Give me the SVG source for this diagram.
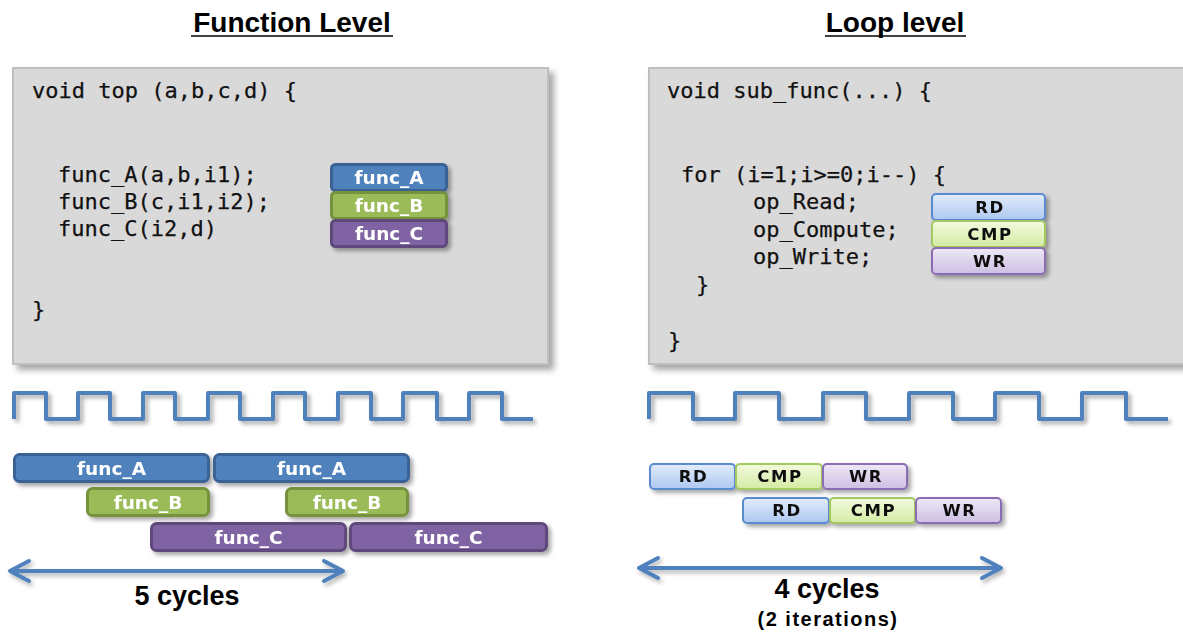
<svg xmlns="http://www.w3.org/2000/svg" width="1183" height="632" viewBox="0 0 1183 632">
<defs>
<style>
.title{font-family:"Liberation Sans",Arial,sans-serif;font-weight:bold;font-size:28px;fill:#000;text-anchor:middle}
.code{font-family:"DejaVu Sans Mono","Liberation Mono",monospace;font-size:22px;fill:#111;stroke:#111;stroke-width:0.25}
.panel{fill:#d9d9d9;stroke:#bfbfbf;stroke-width:2}
.fn{font-family:"DejaVu Sans",Verdana,sans-serif;font-weight:bold;font-size:18.5px;fill:#fff;text-anchor:middle}
.op{font-family:"DejaVu Sans",Verdana,sans-serif;font-weight:bold;font-size:16.5px;fill:#111;text-anchor:middle;letter-spacing:1.6px}
.fa{fill:#4f81bd;stroke:#3a6294;stroke-width:3}
.fb{fill:#9bbb59;stroke:#76923c;stroke-width:3}
.fc{fill:#8064a2;stroke:#5f4a7b;stroke-width:3}
.rd{fill:url(#gRD);stroke:#5a8bcf;stroke-width:2}
.cmp{fill:url(#gCMP);stroke:#a4c862;stroke-width:2}
.wr{fill:url(#gWR);stroke:#8b6db3;stroke-width:2}
.wave{fill:none;stroke:#4f81bd;stroke-width:4;stroke-linejoin:round}
.arrow{fill:none;stroke:#4f81bd;stroke-width:4}
.lbl{font-family:"Liberation Sans",Arial,sans-serif;font-weight:bold;font-size:27px;fill:#000;text-anchor:middle}
.sub{font-family:"Liberation Sans",Arial,sans-serif;font-weight:bold;font-size:20px;fill:#000;text-anchor:middle;letter-spacing:1.5px}
</style>
<linearGradient id="gRD" x1="0" y1="0" x2="0" y2="1"><stop offset="0" stop-color="#e2ecfb"/><stop offset="1" stop-color="#adc8f0"/></linearGradient>
<linearGradient id="gCMP" x1="0" y1="0" x2="0" y2="1"><stop offset="0" stop-color="#f3fadf"/><stop offset="1" stop-color="#d3eba2"/></linearGradient>
<linearGradient id="gWR" x1="0" y1="0" x2="0" y2="1"><stop offset="0" stop-color="#eee8f6"/><stop offset="1" stop-color="#cdbfe3"/></linearGradient>
<filter id="sh" x="-10%" y="-30%" width="130%" height="180%"><feDropShadow dx="3" dy="3" stdDeviation="2" flood-color="#000" flood-opacity="0.35"/></filter>
<filter id="shLine" filterUnits="userSpaceOnUse" x="0" y="540" width="1183" height="60"><feDropShadow dx="2" dy="3" stdDeviation="2" flood-color="#000" flood-opacity="0.3"/></filter>
<filter id="shBig" x="-5%" y="-5%" width="115%" height="115%"><feDropShadow dx="5" dy="5" stdDeviation="3" flood-color="#000" flood-opacity="0.35"/></filter>
<marker id="chev" markerUnits="userSpaceOnUse" viewBox="-22 -13 26 26" refX="0" refY="0" markerWidth="26" markerHeight="26" orient="auto-start-reverse">
<path d="M-19,-10 L0,0 L-19,10" fill="none" stroke="#4f81bd" stroke-width="4" stroke-linecap="round" stroke-linejoin="round"/>
</marker>
</defs>
<rect width="1183" height="632" fill="#fff"/>

<g id="title-function-level">
<text class="title" x="292" y="32">Function Level</text>
<line x1="191" y1="36" x2="393" y2="36" stroke="#000" stroke-width="1.6"/>
</g>
<g id="title-loop-level">
<text class="title" x="895" y="32">Loop level</text>
<line x1="825" y1="36" x2="966" y2="36" stroke="#000" stroke-width="1.6"/>
</g>

<g id="panel-top">
<rect class="panel" x="13" y="68" width="535" height="296" filter="url(#shBig)"/>
<text class="code" x="32" y="98">void top (a,b,c,d) {</text>
<text class="code" x="58" y="182">func_A(a,b,i1);</text>
<text class="code" x="58" y="209">func_B(c,i1,i2);</text>
<text class="code" x="58" y="236">func_C(i2,d)</text>
<text class="code" x="32" y="317">}</text>
</g>

<g id="panel-sub-func">
<rect class="panel" x="649" y="68" width="545" height="296" filter="url(#shBig)"/>
<text class="code" x="667" y="98">void sub_func(...) {</text>
<text class="code" x="681" y="182">for (i=1;i&gt;=0;i--) {</text>
<text class="code" x="753" y="209">op_Read;</text>
<text class="code" x="753" y="237">op_Compute;</text>
<text class="code" x="753" y="264">op_Write;</text>
<text class="code" x="696" y="292">}</text>
<text class="code" x="668" y="348">}</text>
</g>

<g id="code-func-A" filter="url(#sh)">
<rect class="fa" x="331.5" y="164.5" width="115" height="26" rx="4"/>
<text class="fn" x="389" y="184">func_A</text>
</g>
<g id="code-func-B" filter="url(#sh)">
<rect class="fb" x="331.5" y="192.5" width="115" height="26" rx="4"/>
<text class="fn" x="389" y="212">func_B</text>
</g>
<g id="code-func-C" filter="url(#sh)">
<rect class="fc" x="331.5" y="220.5" width="115" height="26" rx="4"/>
<text class="fn" x="389" y="240">func_C</text>
</g>

<g id="code-RD" filter="url(#sh)">
<rect class="rd" x="932" y="194" width="113" height="26" rx="4"/>
<text class="op" x="990" y="213">RD</text>
</g>
<g id="code-CMP" filter="url(#sh)">
<rect class="cmp" x="932" y="221" width="113" height="26" rx="4"/>
<text class="op" x="990" y="240">CMP</text>
</g>
<g id="code-WR" filter="url(#sh)">
<rect class="wr" x="932" y="248" width="113" height="26" rx="4"/>
<text class="op" x="990" y="267">WR</text>
</g>

<g id="clock-left" filter="url(#sh)">
<path class="wave" d="M14,419 V393 H46 V419 H78 V393 H110 V419 H143 V393 H175 V419 H208 V393 H240 V419 H273 V393 H305 V419 H338 V393 H371 V419 H403 V393 H437 V419 H469 V393 H502 V419 H533"/>
</g>
<g id="clock-right" filter="url(#sh)">
<path class="wave" d="M649,419 V393 H693 V419 H735 V393 H779 V419 H823 V393 H866 V419 H909 V393 H953 V419 H995 V393 H1039 V419 H1082 V393 H1126 V419 H1168"/>
</g>

<g id="bar-func-A-1" filter="url(#sh)">
<rect class="fa" x="14.5" y="454.5" width="194" height="27" rx="5"/>
<text class="fn" x="111.5" y="475">func_A</text>
</g>
<g id="bar-func-A-2" filter="url(#sh)">
<rect class="fa" x="214.5" y="454.5" width="194" height="27" rx="5"/>
<text class="fn" x="311.5" y="475">func_A</text>
</g>
<g id="bar-func-B-1" filter="url(#sh)">
<rect class="fb" x="87.5" y="488.5" width="121" height="27" rx="5"/>
<text class="fn" x="148" y="509">func_B</text>
</g>
<g id="bar-func-B-2" filter="url(#sh)">
<rect class="fb" x="286.5" y="488.5" width="121" height="27" rx="5"/>
<text class="fn" x="347" y="509">func_B</text>
</g>
<g id="bar-func-C-1" filter="url(#sh)">
<rect class="fc" x="151.5" y="523.5" width="194" height="27" rx="5"/>
<text class="fn" x="248.5" y="544">func_C</text>
</g>
<g id="bar-func-C-2" filter="url(#sh)">
<rect class="fc" x="350.5" y="523.5" width="196" height="27" rx="5"/>
<text class="fn" x="448.5" y="544">func_C</text>
</g>

<g id="bar-RD-1" filter="url(#sh)">
<rect class="rd" x="650" y="464" width="85" height="25" rx="4"/>
<text class="op" x="693.5" y="482">RD</text>
</g>
<g id="bar-CMP-1" filter="url(#sh)">
<rect class="cmp" x="736" y="464" width="86" height="25" rx="4"/>
<text class="op" x="780" y="482">CMP</text>
</g>
<g id="bar-WR-1" filter="url(#sh)">
<rect class="wr" x="823" y="464" width="84" height="25" rx="4"/>
<text class="op" x="866" y="482">WR</text>
</g>
<g id="bar-RD-2" filter="url(#sh)">
<rect class="rd" x="743" y="498" width="86" height="25" rx="4"/>
<text class="op" x="787" y="516">RD</text>
</g>
<g id="bar-CMP-2" filter="url(#sh)">
<rect class="cmp" x="830" y="498" width="85" height="25" rx="4"/>
<text class="op" x="873.5" y="516">CMP</text>
</g>
<g id="bar-WR-2" filter="url(#sh)">
<rect class="wr" x="916" y="498" width="85" height="25" rx="4"/>
<text class="op" x="959.5" y="516">WR</text>
</g>

<g id="connectors" filter="url(#shLine)">
<line class="arrow" x1="10" y1="571" x2="343" y2="571" marker-start="url(#chev)" marker-end="url(#chev)"/>
<line class="arrow" x1="639" y1="568" x2="1001" y2="568" marker-start="url(#chev)" marker-end="url(#chev)"/>
</g>

<g id="label-5-cycles">
<text class="lbl" x="187" y="605">5 cycles</text>
</g>
<g id="label-4-cycles">
<text class="lbl" x="827" y="598">4 cycles</text>
<text class="sub" x="828" y="626">(2 iterations)</text>
</g>
</svg>
